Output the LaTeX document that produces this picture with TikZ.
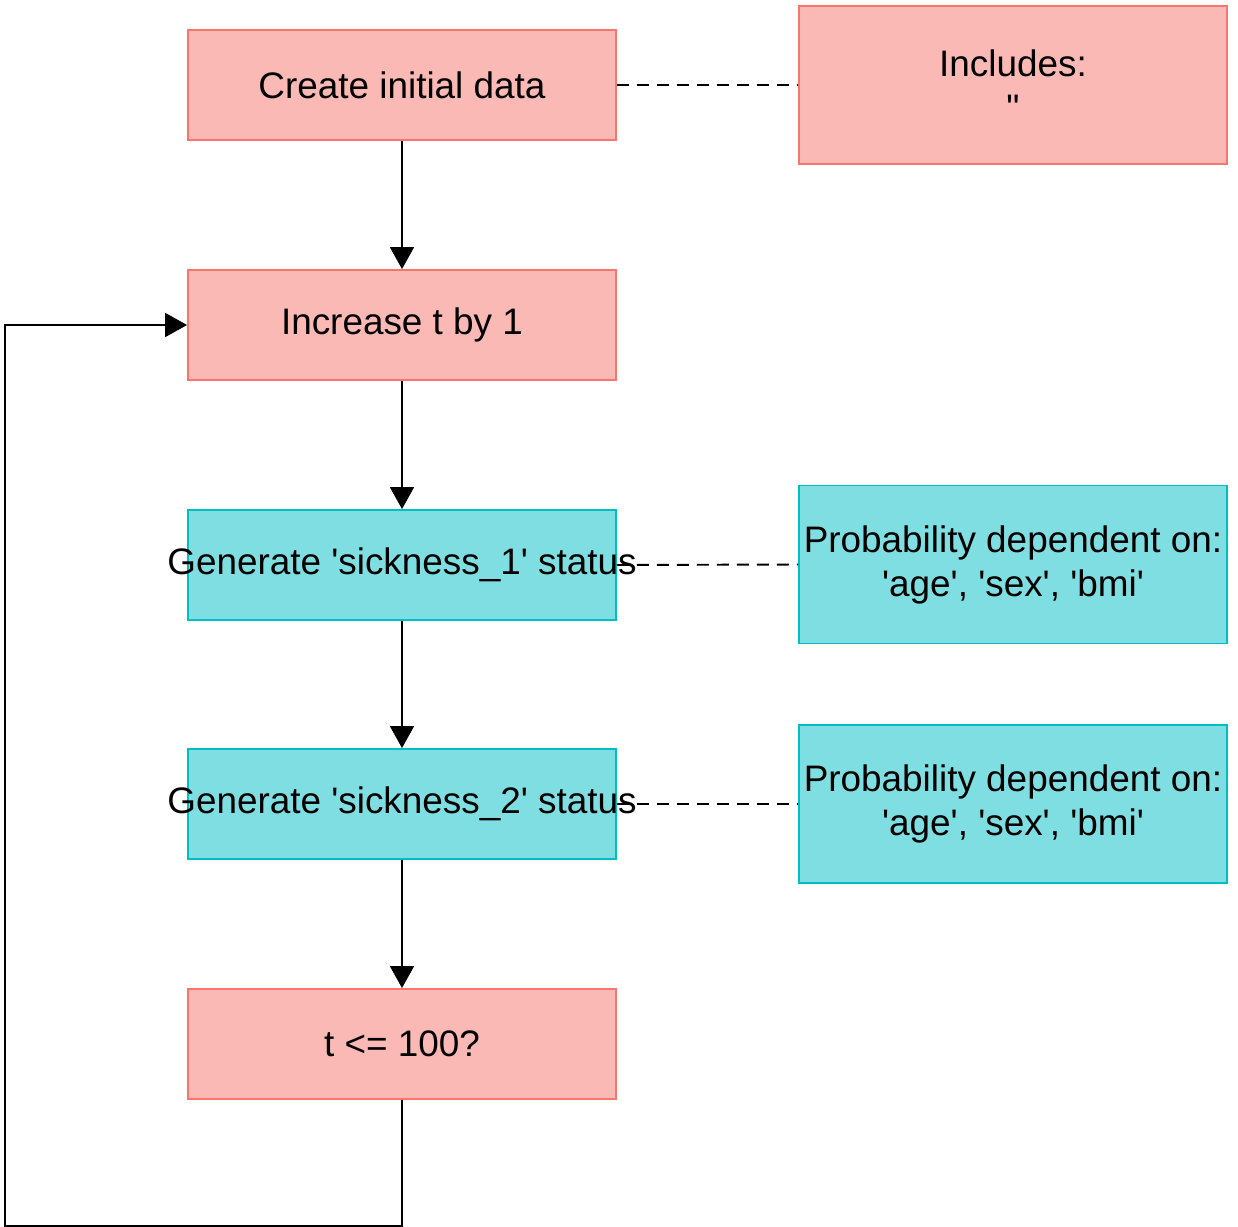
\documentclass[tikz,border=0pt]{standalone}
\usepackage{fontspec}
\setmainfont{Liberation Sans}[Ligatures=TeXOff]
\usetikzlibrary{arrows.meta}
\definecolor {salmonfill}{HTML}{FBB9B5}
\definecolor {salmonline}{HTML}{F8766D}
\definecolor {tealfill}{HTML}{7FDEE1}
\definecolor {tealline}{HTML}{00BFC4}

\begin{document}
\begin{tikzpicture}[x=0.02cm, y=-0.02cm, -{Triangle[length=0.44cm, width=0.48cm]}, line width=1.1pt,
            font=\fontsize{21}{25}\selectfont,
            redbox/.style ={rectangle, draw=salmonline, fill=salmonfill, line width=1.1pt,
            minimum width=8.56cm, minimum height=2.2cm, inner sep=1pt, align=center},
            bluebox/.style ={redbox, draw=tealline, fill=tealfill},
            notebox/.style ={minimum height=3.16cm},
            note/.style ={-, dashed, dash pattern=on 0.24cm off 0.16cm}]
        \useasboundingbox (0,0) rectangle (1238,1227);

        %nodos principales
        \node[redbox] (init) at (402, 85) {Create initial data};
        \node[redbox] (incr) at (402, 325) {Increase t by 1};
        \node[bluebox] (sick1) at (402, 565) {\makebox[0pt]{Generate 'sickness\_1' status}};
        \node[bluebox] (sick2) at (402, 804) {\makebox[0pt]{Generate 'sickness\_2' status}};
        \node[redbox] (check) at (402, 1044) {t <= 100?};

        %notas a la derecha
        \node[redbox, notebox] (incl) at (1013, 85) {Includes:\\"};
        \node[bluebox, notebox] (prob1) at (1013, 564.5) {Probability dependent on:\\'age', 'sex', 'bmi'};
        \node[bluebox, notebox] (prob2) at (1013, 804) {Probability dependent on:\\'age', 'sex', 'bmi'};
        \coordinate (loop) at (5, 1226);

        \path (init) edge (incr);
        \path (incr) edge (sick1);
        \path (sick1) edge (sick2);
        \path (sick2) edge (check);
        \draw (check.south) |- (loop) |- (incr.west);

        \path (init) edge[note] (incl);
        \path (sick1.east) edge[note] (prob1.west);
        \path (sick2.east) edge[note] (prob2.west);
    \end{tikzpicture}
\end{document}
